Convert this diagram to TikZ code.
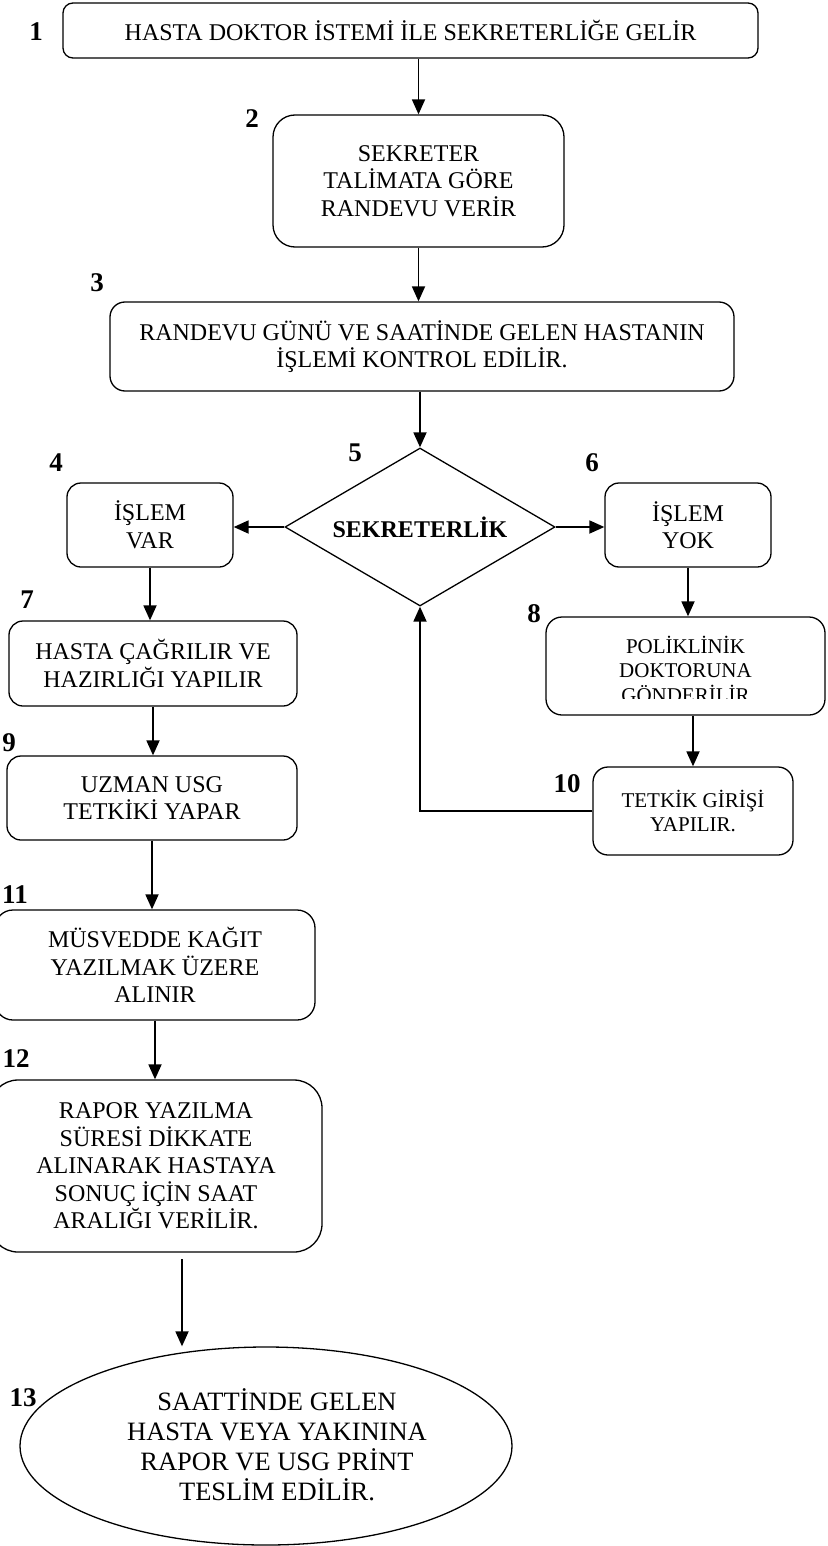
\documentclass[tikz,border=0pt]{standalone}
\usepackage{fontspec}
\setmainfont{Liberation Serif}
\usetikzlibrary{shapes.geometric,arrows.meta}
\begin{document}
\begin{tikzpicture}[x=1pt,y=-1pt,
  box/.style={draw,line width=1.3pt,inner sep=0pt,align=center,
    font=\fontsize{24}{27.5}\selectfont},
  smallbox/.style={box,font=\fontsize{21}{24.5}\selectfont},
  num/.style={font=\fontsize{27}{30}\selectfont\bfseries,inner sep=0pt},
  arr/.style={line width=1.8pt,-{Triangle[length=15pt,width=13pt]}},
  conn/.style={line width=1.8pt}]
\useasboundingbox (0,0) rectangle (827,1546);
\clip (0,0) rectangle (827,1546);

% boxes
\node[box,rounded corners=10pt,minimum width=695pt,minimum height=55pt] (b1) at (410.5,30.5) {HASTA DOKTOR İSTEMİ İLE SEKRETERLİĞE GELİR};
\node[box,rounded corners=22pt,minimum width=291pt,minimum height=132pt] (b2) at (418.5,181) {SEKRETER\\TALİMATA GÖRE\\RANDEVU VERİR};
\node[box,rounded corners=15pt,minimum width=624pt,minimum height=89pt] (b3) at (422,346.5) {RANDEVU GÜNÜ VE SAATİNDE GELEN HASTANIN\\İŞLEMİ KONTROL EDİLİR.};
\node[draw,line width=1.3pt,diamond,aspect=2,inner sep=0pt,minimum width=270pt,minimum height=158pt,font=\fontsize{24}{27.5}\selectfont\bfseries] (d5) at (420,527) {SEKRETERLİK};
\node[box,rounded corners=14pt,minimum width=166pt,minimum height=84pt] (b4) at (150,525) {İŞLEM\\VAR};
\node[box,rounded corners=14pt,minimum width=166pt,minimum height=84pt] (b6) at (688,525) {İŞLEM\\YOK};
\node[box,rounded corners=14pt,minimum width=288pt,minimum height=85pt] (b7) at (153,663.5) {HASTA ÇAĞRILIR VE\\HAZIRLIĞI YAPILIR};
\node[smallbox,rounded corners=16pt,minimum width=279pt,minimum height=98pt] (b8) at (685.5,666) {};
\begin{scope}
  \clip (540,600) rectangle (827,698);
  \node[smallbox,draw=none] (t8) at (685.5,669) {POLİKLİNİK\\DOKTORUNA\\GÖNDERİLİR};
\end{scope}
\node[box,rounded corners=14pt,minimum width=290pt,minimum height=84pt] (b9) at (152,798) {UZMAN USG\\TETKİKİ YAPAR};
\node[smallbox,rounded corners=15pt,minimum width=200pt,minimum height=88pt] (b10) at (693,811) {TETKİK GİRİŞİ\\YAPILIR.};
\node[box,rounded corners=18pt,minimum width=320pt,minimum height=110pt] (b11) at (155,965) {MÜSVEDDE KAĞIT\\YAZILMAK ÜZERE\\ALINIR};
\node[box,rounded corners=28pt,minimum width=332pt,minimum height=172pt] (b12) at (156,1166) {RAPOR YAZILMA\\SÜRESİ DİKKATE\\ALINARAK HASTAYA\\SONUÇ İÇİN SAAT\\ARALIĞI VERİLİR.};
\node[draw,line width=1.3pt,ellipse,inner sep=0pt,minimum width=492pt,minimum height=198pt] (e13) at (266,1446) {};
\node[inner sep=0pt,align=center,font=\fontsize{26.5}{30}\selectfont] (t13) at (277,1445) {SAATTİNDE GELEN\\HASTA VEYA YAKININA\\RAPOR VE USG PRİNT\\TESLİM EDİLİR.};

% numbers
\node[num] (n1) at (36,32) {1};
\node[num] (n2) at (252,119) {2};
\node[num] (n3) at (97,283) {3};
\node[num] (n4) at (56,463) {4};
\node[num] (n5) at (355,453) {5};
\node[num] (n6) at (592,463) {6};
\node[num] (n7) at (27,600) {7};
\node[num] (n8) at (534,614) {8};
\node[num] (n9) at (9,743) {9};
\node[num] (n10) at (567,784) {10};
\node[num] (n11) at (15,895) {11};
\node[num] (n12) at (16,1059) {12};
\node[num] (n13) at (23,1398) {13};

% connectors
\draw[arr] (b1.south -| b2.north) -- (b2.north);
\draw[arr] (b2.south) -- (b2.south |- b3.north);
\draw[arr] (b3.south -| d5.north) -- (d5.north);
\draw[arr] (d5.west) -- (d5.west -| b4.east);
\draw[arr] (d5.east) -- (d5.east -| b6.west);
\draw[arr] (b4.south) -- (b4.south |- b7.north);
\draw[arr] (b6.south) -- (b6.south |- b8.north);
\draw[arr] (b7.south) -- (b7.south |- b9.north);
\draw[arr] (b8.south -| b10.north) -- (b10.north);
\draw[arr] (b10.west) -| (d5.south);
\draw[arr] (b9.south) -- (b9.south |- b11.north);
\draw[arr] (b11.south) -- (b11.south |- b12.north);
\coordinate (a12) at (182,1259);
\draw[arr] (a12) -- (a12 |- e13.north);
\end{tikzpicture}
\end{document}
